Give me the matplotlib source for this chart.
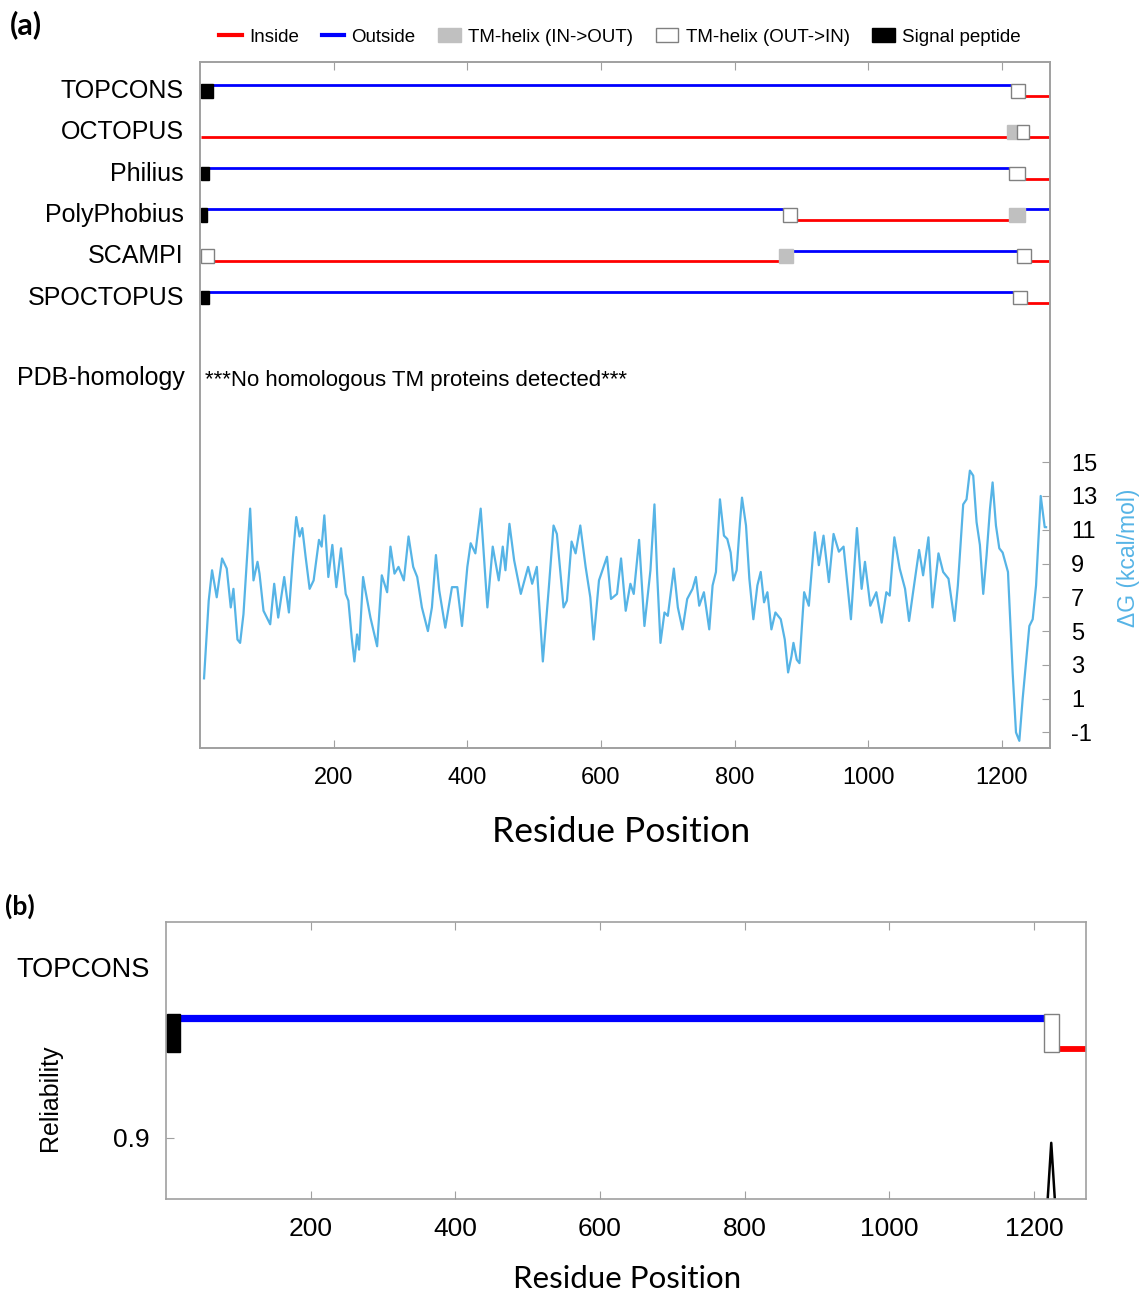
import matplotlib
matplotlib.use("Agg")
import matplotlib.pyplot as plt
from matplotlib.patches import Rectangle, Patch
from matplotlib.lines import Line2D

plt.rcParams['font.family'] = ['Liberation Sans', 'DejaVu Sans']
plt.rcParams['axes.unicode_minus'] = False

SEQ_LEN = 1272

# topology predictions: (state, start, end)
# i = inside, o = outside, M = TM-helix IN->OUT, W = TM-helix OUT->IN, S = signal peptide
methods = ['TOPCONS', 'OCTOPUS', 'Philius', 'PolyPhobius', 'SCAMPI', 'SPOCTOPUS']
topologies = [
    [('S', 1, 20), ('o', 20, 1214), ('W', 1214, 1235), ('i', 1235, SEQ_LEN)],
    [('i', 1, 1208), ('M', 1208, 1223), ('W', 1223, 1240), ('i', 1240, SEQ_LEN)],
    [('S', 1, 13), ('o', 13, 1211), ('W', 1211, 1234), ('i', 1234, SEQ_LEN)],
    [('S', 1, 11), ('o', 11, 873), ('W', 873, 894), ('i', 894, 1211),
     ('M', 1211, 1234), ('o', 1234, SEQ_LEN)],
    [('W', 1, 21), ('i', 21, 867), ('M', 867, 887), ('o', 887, 1223),
     ('W', 1223, 1244), ('i', 1244, SEQ_LEN)],
    [('S', 1, 13), ('o', 13, 1217), ('W', 1217, 1237), ('i', 1237, SEQ_LEN)],
]

# predicted dG along the sequence (kcal/mol)
dg_pos = [6, 13, 18, 25, 33, 40, 46, 50, 56, 60, 65, 75, 80, 86, 89, 95, 105, 111, 117,
          126, 133, 139, 144, 149, 153, 158, 164, 170, 178, 182, 186, 192, 198, 204, 211,
          218, 222, 227, 231, 235, 238, 244, 247, 255, 265, 272, 280, 285, 291, 297, 305,
          312, 319, 325, 332, 341, 347, 353, 358, 367, 377, 385, 392, 400, 405, 412, 420,
          430, 438, 447, 453, 457, 463, 470, 480, 491, 497, 504, 513, 522, 529, 534, 544,
          549, 556, 562, 569, 577, 584, 589, 597, 609, 615, 624, 630, 637, 644, 649, 657,
          665, 674, 680, 684, 689, 695, 700, 709, 715, 722, 729, 737, 742, 747, 754, 762,
          767, 772, 778, 784, 789, 794, 798, 803, 808, 811, 817, 822, 828, 834, 839, 844,
          849, 855, 861, 869, 875, 880, 885, 888, 893, 897, 904, 911, 920, 926, 933, 941,
          948, 956, 963, 974, 983, 990, 995, 1003, 1012, 1020, 1027, 1032, 1039, 1047, 1055,
          1061, 1067, 1076, 1082, 1090, 1096, 1105, 1112, 1120, 1129, 1134, 1142, 1147, 1152,
          1157, 1162, 1167, 1172, 1177, 1182, 1186, 1191, 1196, 1201, 1209, 1216, 1221, 1226,
          1231, 1241, 1246, 1251, 1258, 1264, 1266]
dg_val = [2.2, 6.8, 8.6, 7.0, 9.3, 8.7, 6.4, 7.5, 4.5, 4.3, 6.0, 12.25, 8.0, 9.1, 8.4, 6.2,
          5.4, 7.8, 5.8, 8.2, 6.1, 9.4, 11.75, 10.6, 11.1, 9.4, 7.5, 8.0, 10.4, 10.0, 11.85,
          8.2, 10.1, 7.6, 9.9, 7.2, 6.8, 4.6, 3.2, 4.8, 3.9, 8.2, 7.5, 5.8, 4.1, 8.3, 7.3,
          10.0, 8.4, 8.8, 8.0, 10.6, 8.8, 8.2, 6.4, 5.0, 6.4, 9.5, 7.4, 5.2, 7.6, 7.6, 5.3,
          8.8, 10.2, 9.6, 12.25, 6.4, 10.0, 8.0, 10.0, 8.6, 11.35, 9.2, 7.2, 8.8, 7.8, 8.8,
          3.2, 7.6, 11.25, 10.75, 6.4, 6.8, 10.3, 9.6, 11.25, 8.8, 7.0, 4.5, 8.0, 9.4, 6.9,
          7.2, 9.3, 6.2, 7.8, 7.2, 10.4, 5.3, 8.6, 12.5, 8.4, 4.3, 6.1, 5.9, 8.7, 6.4, 5.1,
          6.9, 7.5, 8.2, 6.5, 7.3, 5.1, 7.7, 8.5, 12.8, 10.65, 10.45, 9.65, 8.0, 8.6, 11.45,
          12.9, 11.25, 8.1, 5.7, 7.7, 8.5, 6.7, 7.3, 5.1, 6.1, 5.7, 4.5, 2.55, 3.5, 4.3, 3.3,
          3.1, 7.3, 6.5, 10.85, 8.9, 10.65, 7.9, 10.75, 9.7, 10.0, 5.7, 11.1, 7.5, 9.1, 6.5,
          7.3, 5.5, 7.3, 7.1, 10.55, 8.7, 7.5, 5.6, 7.3, 9.8, 8.3, 10.55, 6.4, 9.6, 8.5, 8.1,
          5.6, 7.7, 12.5, 12.8, 14.5, 14.2, 11.45, 10.1, 7.2, 9.5, 12.2, 13.8, 11.25, 9.9,
          9.65, 8.5, 2.55, -1.0, -1.5, 1.0, 5.3, 5.7, 7.7, 13.0, 11.15, 11.15]

# TOPCONS reliability
rel_pos = [1218, 1224, 1230]
rel_val = [0.84, 0.896, 0.84]

x_ticks = [200, 400, 600, 800, 1000, 1200]
dg_ticks = [-1, 1, 3, 5, 7, 9, 11, 13, 15]

RED = '#ff0000'
BLUE = '#0000ff'
GRAY = '#c0c0c0'
DG_COLOR = '#56b4e6'
SPINE = '#a0a0a0'
EDGE = '#808080'

fig = plt.figure(figsize=(11.43, 12.92), dpi=100)

# ---------------- panel (a) ----------------
ax = fig.add_axes([0.175, 0.4211, 0.7437, 0.531])
ax.set_xlim(0, SEQ_LEN)
ax.set_ylim(15.77, -0.822)
OUT_OFF = -0.254   # outside level relative to inside level
BOX_TOP = -0.285
BOX_BOT = 0.04


def draw_track(a, y0, topo, out_off, box_top, box_bot, lw_in, lw_out):
    for state, s, e in topo:
        if state == 'i':
            a.plot([s, e], [y0, y0], color=RED, lw=lw_in, solid_capstyle='butt', zorder=2)
        elif state == 'o':
            a.plot([s, e], [y0 + out_off, y0 + out_off], color=BLUE, lw=lw_out,
                   solid_capstyle='butt', zorder=2)
    for state, s, e in topo:
        if state in 'MWS':
            fc = {'M': GRAY, 'W': 'white', 'S': 'black'}[state]
            ec = {'M': GRAY, 'W': EDGE, 'S': 'black'}[state]
            a.add_patch(Rectangle((s, y0 + box_top), e - s, box_bot - box_top,
                                  facecolor=fc, edgecolor=ec, lw=1.0, zorder=3))


for k, (name, topo) in enumerate(zip(methods, topologies)):
    draw_track(ax, k, topo, OUT_OFF, BOX_TOP, BOX_BOT, 2.0, 2.0)
    ax.text(-0.019, k - 0.12, name, transform=ax.get_yaxis_transform(),
            ha='right', va='center', fontsize=18)

ax.text(-0.018, 6.82, 'PDB-homology', transform=ax.get_yaxis_transform(),
        ha='right', va='center', fontsize=18)
ax.text(8, 6.89, '***No homologous TM proteins detected***', ha='left', va='center',
        fontsize=16)

ax.set_yticks([])
ax.set_xticks(x_ticks)
ax.tick_params(axis='x', direction='in', top=True, length=6, color=SPINE,
               labelsize=17, pad=13.5)
for sp in ax.spines.values():
    sp.set_color(SPINE)
    sp.set_linewidth(1.2)

axg = ax.twinx()
axg.set_ylim(-1.92, 38.7)
axg.plot(dg_pos, dg_val, color=DG_COLOR, lw=1.6)
axg.set_yticks(dg_ticks)
axg.tick_params(axis='y', direction='in', length=6, color=SPINE, labelsize=17, pad=15)
axg.text(1.092, 0.277, 'ΔG (kcal/mol)', transform=axg.transAxes, rotation=90,
         ha='center', va='center', color=DG_COLOR, fontsize=16.5)
for sp in axg.spines.values():
    sp.set_color(SPINE)
    sp.set_linewidth(1.2)

ax.text(0.495, -0.1225, 'Residue Position', transform=ax.transAxes, ha='center',
        va='center', fontsize=25.5, family='Lato')

handles = [Line2D([], [], color=RED, lw=3),
           Line2D([], [], color=BLUE, lw=3),
           Patch(facecolor=GRAY, edgecolor=GRAY),
           Patch(facecolor='white', edgecolor=EDGE),
           Patch(facecolor='black', edgecolor='black')]
labels = ['Inside', 'Outside', 'TM-helix (IN->OUT)', 'TM-helix (OUT->IN)', 'Signal peptide']
fig.legend(handles, labels, loc='center', bbox_to_anchor=(620 / 1143, 1 - 37 / 1292),
           ncol=5, frameon=False, fontsize=13.5, handlelength=1.2, handletextpad=0.4,
           columnspacing=1.2)

fig.text(10 / 1143, 1 - 25 / 1292, '(a)', fontsize=22, fontweight='bold', family='Lato',
         ha='left', va='center')

# ---------------- panel (b) ----------------
axb = fig.add_axes([0.1452, 0.0720, 0.8049, 0.2144])
axb.set_xlim(0, SEQ_LEN)
axb.set_ylim(0.85, 1.077)
draw_track(axb, 0.973, topologies[0], 0.0255, 0.0286, -0.0024, 4.2, 5.2)
axb.plot(rel_pos, rel_val, color='black', lw=1.8)

axb.set_xticks(x_ticks)
axb.set_yticks([0.9])
axb.set_yticklabels(['0.9'])
axb.tick_params(direction='in', top=True, length=6, color=SPINE, labelsize=19)
axb.tick_params(axis='x', pad=13)
axb.tick_params(axis='y', pad=12)
for sp in axb.spines.values():
    sp.set_color(SPINE)
    sp.set_linewidth(1.2)

axb.text(-0.0174, 0.827, 'TOPCONS', transform=axb.transAxes, ha='right', va='center',
         fontsize=19.5)
axb.text(-0.126, 0.365, 'Reliability', transform=axb.transAxes, ha='center', va='center',
         rotation=90, fontsize=18)
axb.text(0.501, -0.288, 'Residue Position', transform=axb.transAxes, ha='center',
         va='center', fontsize=22.5, family='Lato')

fig.text(5 / 1143, 1 - 906 / 1292, '(b)', fontsize=19, fontweight='bold', family='Lato',
         ha='left', va='center')

fig.savefig('out.png', dpi=100)
